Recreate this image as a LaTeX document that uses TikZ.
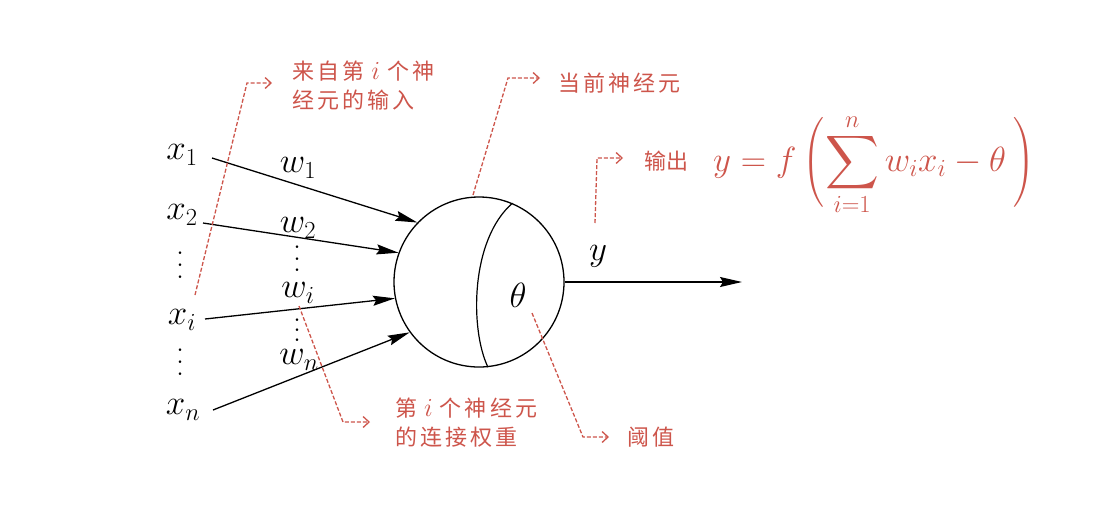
\RequirePackage{fix-cm}
\documentclass[tikz,border=0pt]{standalone}
\usepackage{amsmath}
\usepackage{graphicx}
\usepackage{fontspec}
\newfontfamily\cjk[LetterSpace=14]{Noto Sans CJK SC}
\newfontfamily\cjkn{Noto Sans CJK SC}
\usetikzlibrary{arrows.meta}
\definecolor{anno}{RGB}{205,85,75}
\newcommand\myvdots[1]{\vbox{\baselineskip#1\lineskiplimit0pt\hbox{.}\hbox{.}\hbox{.}}}
\newcommand\gi{\hspace{7pt}{\fontsize{26}{30}\selectfont$i$}\hspace{7pt}}
\newcommand\bigsum{\mathop{\vcenter{\hbox{\scalebox{1.5}{$\displaystyle\sum$}}}}\limits}
\newcommand\lpar{\mathopen{\left(\vcenter{\hbox{\rule{0pt}{92pt}}}\right.}}
\newcommand\rpar{\mathclose{\left.\vcenter{\hbox{\rule{0pt}{92pt}}}\right)}}
\begin{document}
\begin{tikzpicture}[x=1pt,y=-1pt,
  lab/.style={inner sep=0pt, font=\fontsize{35}{40}\selectfont},
  dots/.style={inner sep=0pt, font=\fontsize{32}{36}\selectfont},
  zh/.style={inner sep=0pt, text=anno, font=\fontsize{22}{29}\selectfont\cjk, align=left, anchor=west},
  inarrow/.style={line width=1.3pt, -{Stealth[length=22pt,width=10pt,inset=3pt]}},
  note/.style={anno, line width=1.3pt, dash pattern=on 4pt off 2pt, -{Straight Barb[length=6pt,width=11pt]}}]
\useasboundingbox (0,0) rectangle (1118,512);
% neuron
\node[circle, draw, line width=1.3pt, minimum size=170pt, inner sep=0pt] (n) at (479,282) {};
\draw[line width=1.2pt] (n.67) .. controls (470,240) and (470,330) .. (n.-84);
\node[lab] (th) at (518,295) {$\theta$};
% inputs
\node[lab] (x1) at (182,155) {$x_1$};
\node[lab] (x2) at (182,215) {$x_2$};
\node[dots] (xd1) at (180,265) {\myvdots{12pt}};
\node[lab] (xi) at (182,320) {$x_i$};
\node[dots] (xd2) at (180,362) {\myvdots{12pt}};
\node[lab] (xn) at (183,410) {$x_n$};
\node[lab] (w1) at (298,168) {$w_1$};
\node[lab] (w2) at (298,228) {$w_2$};
\node[dots] (wd1) at (297,259) {\myvdots{11.5pt}};
\node[lab] (wi) at (298,293) {$w_i$};
\node[dots] (wd2) at (297,330) {\myvdots{10pt}};
\node[lab] (wn) at (299,360) {$w_n$};
\coordinate (s1) at (212,158);
\coordinate (s2) at (203,223);
\coordinate (s3) at (205,319);
\coordinate (s4) at (213,410);
\draw[inarrow] (s1) -- (n.136);
\draw[inarrow] (s2) -- (n.160);
\draw[inarrow] (s3) -- (n.191);
\draw[inarrow] (s4) -- (n.216);
% output
\coordinate (o) at (742,282);
\draw[inarrow] (n.east) -- (o);
\node[lab] (y) at (598,256) {$y$};
% annotations
\node[zh, anchor=north west] (t1) at (292,61) {来自第\gi 个神\\经元的输入};
\coordinate (a1s) at (195,295); \coordinate (a1m) at (247,83); \coordinate (a1e) at (272,83);
\draw[note] (a1s) -- (a1m) -- (a1e);
\node[zh] (t2) at (558,83) {当前神经元};
\coordinate (a2s) at (473,195); \coordinate (a2m) at (508,78); \coordinate (a2e) at (540,78);
\draw[note] (a2s) -- (a2m) -- (a2e);
\node[zh, font=\fontsize{22}{29}\selectfont\cjkn] (t3) at (644,161) {输出};
\node[inner sep=0pt, anchor=west, text=anno, font=\fontsize{35}{40}\selectfont] (f) at (713,165)
  {$\displaystyle y=f\,\lpar\bigsum_{i=1}^{n} w_i x_i-\theta\,\rpar$};
\coordinate (a3s) at (595,223); \coordinate (a3m) at (597,158); \coordinate (a3e) at (623,158);
\draw[note] (a3s) -- (a3m) -- (a3e);
\node[zh, anchor=north west] (t4) at (395,398) {第\gi 个神经元\\的连接权重};
\coordinate (a4s) at (299,306); \coordinate (a4m) at (343,422); \coordinate (a4e) at (370,422);
\draw[note] (a4s) -- (a4m) -- (a4e);
\node[zh] (t5) at (627,437) {阈值};
\coordinate (a5s) at (532,313); \coordinate (a5m) at (583,437); \coordinate (a5e) at (609,437);
\draw[note] (a5s) -- (a5m) -- (a5e);
\end{tikzpicture}
\end{document}
